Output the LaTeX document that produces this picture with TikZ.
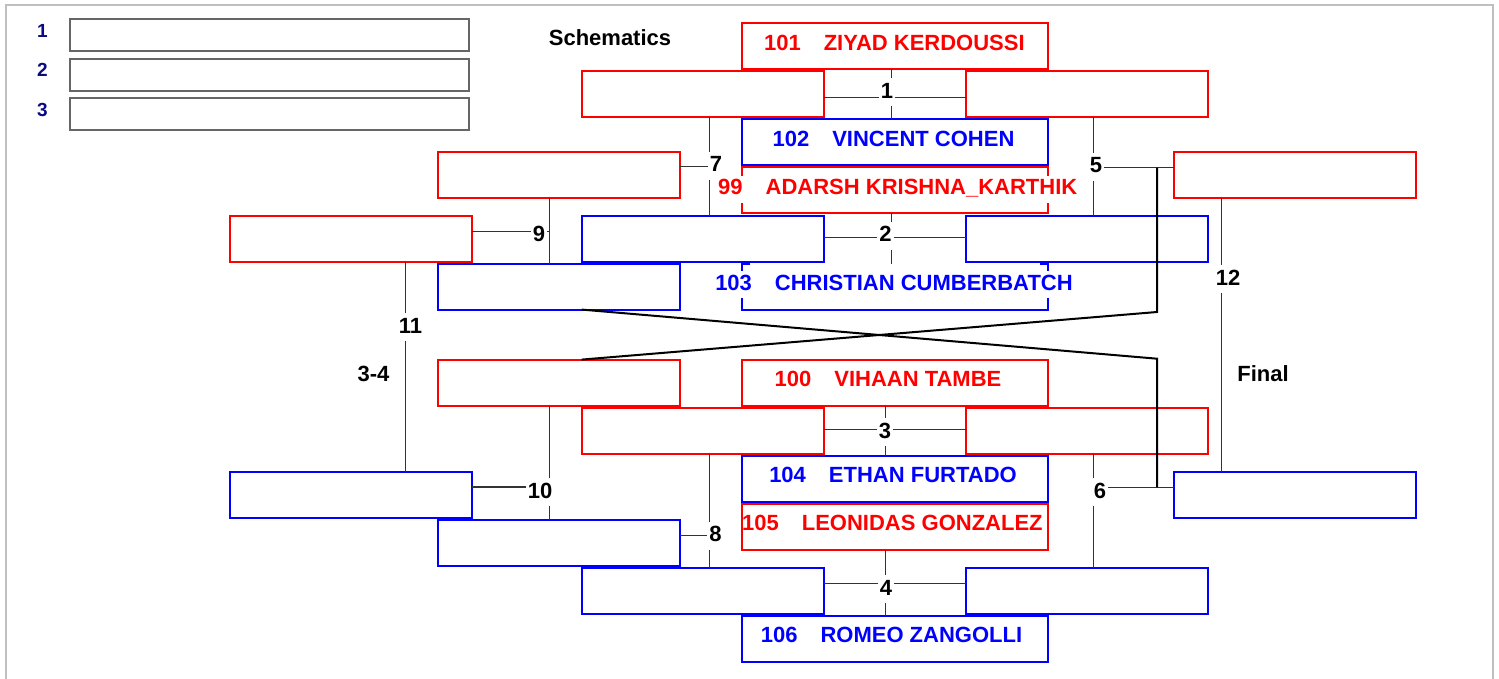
\documentclass[tikz,border=0pt]{standalone}
\usepackage{fontspec}
\setmainfont{Liberation Sans}
\definecolor{navyc}{RGB}{10,10,130}
\newcommand{\pname}[2]{#1\hspace{23pt}#2}
\begin{document}
\begin{tikzpicture}[x=1pt,y=-1pt,
  every node/.style={font=\bfseries\fontsize{22}{26}\selectfont},
  rbox/.style={draw=red,line width=2pt,minimum width=242pt,minimum height=46pt,inner sep=0pt,outer sep=0pt},
  bbox/.style={rbox,draw=blue},
  wide/.style={minimum width=306pt},
  lgbox/.style={draw=black!60,line width=2pt,minimum width=399pt,minimum height=32pt,inner sep=0pt,outer sep=0pt},
  lgnum/.style={anchor=base,inner sep=0pt,text=navyc,font=\bfseries\fontsize{19}{23}\selectfont},
  conn/.style={draw=black!80,line width=1.2pt},
  heavy/.style={draw=black,line width=2pt},
  lab/.style={fill=white,inner sep=2pt,text height=18pt,text depth=6pt,anchor=base},
  txt/.style={anchor=base,inner sep=0pt},
  covered/.style={fill=white,text height=19pt,text depth=8pt}]
\useasboundingbox (0,0) rectangle (1499,679);
\clip (0,0) rectangle (1499,679);
\draw[draw=black!25,line width=2.5pt] (6,5) rectangle (1493,720);

% legend
\node[lgbox] (g1) at (269.5,34.8) {};
\node[lgbox] (g2) at (269.5,74.7) {};
\node[lgbox] (g3) at (269.5,114.2) {};
\node[lgnum] (n1) at (42.5,37.3) {1};
\node[lgnum] (n2) at (42.5,77) {2};
\node[lgnum] (n3) at (42.5,116.7) {3};

% centre player boxes
\node[rbox,wide] (p101) at (894.5,46.4) {};
\node[bbox,wide] (p102) at (894.5,142.3) {};
\node[rbox,wide] (p99) at (894.5,190.4) {};
\node[bbox,wide,draw=none] (p103) at (894.5,286.5) {};
\draw[blue,line width=2pt] ([xshift=8.5pt]p103.north west) -- (p103.north west) -- (p103.south west) -- (p103.south east) -- (p103.north east) -- ([xshift=-8pt]p103.north east);
\node[rbox,wide] (p100) at (894.5,382.7) {};
\node[bbox,wide] (p104) at (894.5,478.8) {};
\node[rbox,wide] (p105) at (894.5,527) {};
\node[bbox,wide] (p106) at (894.5,638.7) {};

% round 1 boxes
\node[rbox] (M1L) at (702.8,94.5) {};
\node[rbox] (M1R) at (1086.6,94.5) {};
\node[bbox] (M2L) at (702.8,238.7) {};
\node[bbox] (M2R) at (1086.6,238.7) {};
\node[rbox] (M3L) at (702.8,430.6) {};
\node[rbox] (M3R) at (1086.6,430.6) {};
\node[bbox] (M4L) at (702.8,590.8) {};
\node[bbox] (M4R) at (1086.6,590.8) {};

% later rounds
\node[rbox] (W7) at (559,174.7) {};
\node[bbox] (L6) at (559,286.6) {};
\node[rbox] (L5) at (559,382.6) {};
\node[bbox] (W8) at (559,543) {};
\node[rbox] (W9) at (351,238.6) {};
\node[bbox] (W10) at (351,494.7) {};
\node[rbox] (W5) at (1294.6,174.7) {};
\node[bbox] (W6) at (1294.6,494.7) {};

% crossing points
\coordinate (x1) at (891.3,97.3);
\coordinate (x2) at (891.3,237.3);
\coordinate (x3) at (885.5,429.3);
\coordinate (x4) at (885.5,583.3);
\coordinate (x5) at (1093.3,167.7);
\coordinate (x6) at (1093.5,487.3);
\coordinate (x7) at (709.6,166.7);
\coordinate (x8) at (709.6,535.7);
\coordinate (x9) at (549.3,231.7);
\coordinate (x10) at (549.3,487);
\coordinate (x11) at (405.7,300);
\coordinate (x12) at (1221.7,300);
\coordinate (k5) at (1157,312);
\coordinate (k6) at (1157,358.7);

% connectors
\draw[conn] (M1L.east |- x1) -- (M1R.west |- x1);
\draw[conn] (x1 |- p101.south) -- (x1 |- p102.north);
\draw[conn] (M2L.east |- x2) -- (M2R.west |- x2);
\draw[conn] (x2 |- p99.south) -- (x2 |- p103.north);
\draw[conn] (M3L.east |- x3) -- (M3R.west |- x3);
\draw[conn] (x3 |- p100.south) -- (x3 |- p104.north);
\draw[conn] (M4L.east |- x4) -- (M4R.west |- x4);
\draw[conn] (x4 |- p105.south) -- (x4 |- p106.north);
\draw[conn] (W7.east |- x7) -- (x7);
\draw[conn] (x7 |- M1L.south) -- (x7 |- M2L.north);
\draw[conn] (W8.east |- x8) -- (x8);
\draw[conn] (x8 |- M3L.south) -- (x8 |- M4L.north);
\draw[conn] (x5) -- (W5.west |- x5);
\draw[conn] (x5 |- M1R.south) -- (x5 |- M2R.north);
\draw[conn] (x6) -- (W6.west |- x6);
\draw[conn] (x6 |- M3R.south) -- (x6 |- M4R.north);
\draw[conn] (W9.east |- x9) -- (x9);
\draw[conn] (x9 |- W7.south) -- (x9 |- L6.north);
\draw[conn] (W10.east |- x10) -- (x10);
\draw[conn] (x10 |- L5.south) -- (x10 |- W8.north);
\draw[conn] (x11 |- W9.south) -- (x11 |- W10.north);
\draw[conn] (x12 |- W5.south) -- (x12 |- W6.north);
\draw[heavy] (x5 -| k5) -- (k5) -- ([xshift=22.7pt]L5.north);
\draw[heavy] (x6 -| k6) -- (k6) -- ([xshift=22.7pt]L6.south);

% match labels
\node[lab] (l1) at (887,98.3) {1};
\node[lab] (l2) at (885.5,241.7) {2};
\node[lab] (l3) at (885,438) {3};
\node[lab] (l4) at (886,595) {4};
\node[lab] (l5) at (1096,173) {5};
\node[lab] (l6) at (1100,498) {6};
\node[lab] (l7) at (716,171.7) {7};
\node[lab] (l8) at (715.5,541.7) {8};
\node[lab] (l9) at (539,241.7) {9};
\node[lab] (l10) at (540,498.3) {10};
\node[lab] (l11) at (410.5,333.3) {11};
\node[lab] (l12) at (1228,285) {12};
\node[txt] (t34) at (373.5,381.7) {3-4};
\node[txt] (tfin) at (1263,381.7) {Final};
\node[txt] (tsch) at (610,46) {Schematics};

% player names
\node[txt,text=red] (t101) at (894.4,50.4) {\pname{101}{ZIYAD KERDOUSSI}};
\node[txt,text=blue] (t102) at (893.5,146.3) {\pname{102}{VINCENT COHEN}};
\node[txt,covered,text=red] (t99) at (897.8,194.6) {\pname{99}{ADARSH KRISHNA\_KARTHIK}};
\node[txt,covered,text=blue] (t103) at (894,290.4) {\pname{103}{CHRISTIAN CUMBERBATCH}};
\node[txt,text=red] (t100) at (888,386.4) {\pname{100}{VIHAAN TAMBE}};
\node[txt,text=blue] (t104) at (893,482.7) {\pname{104}{ETHAN FURTADO}};
\node[txt,text=red] (t105) at (892.4,530.8) {\pname{105}{LEONIDAS GONZALEZ}};
\node[txt,text=blue] (t106) at (891.5,642.6) {\pname{106}{ROMEO ZANGOLLI}};
\end{tikzpicture}
\end{document}
